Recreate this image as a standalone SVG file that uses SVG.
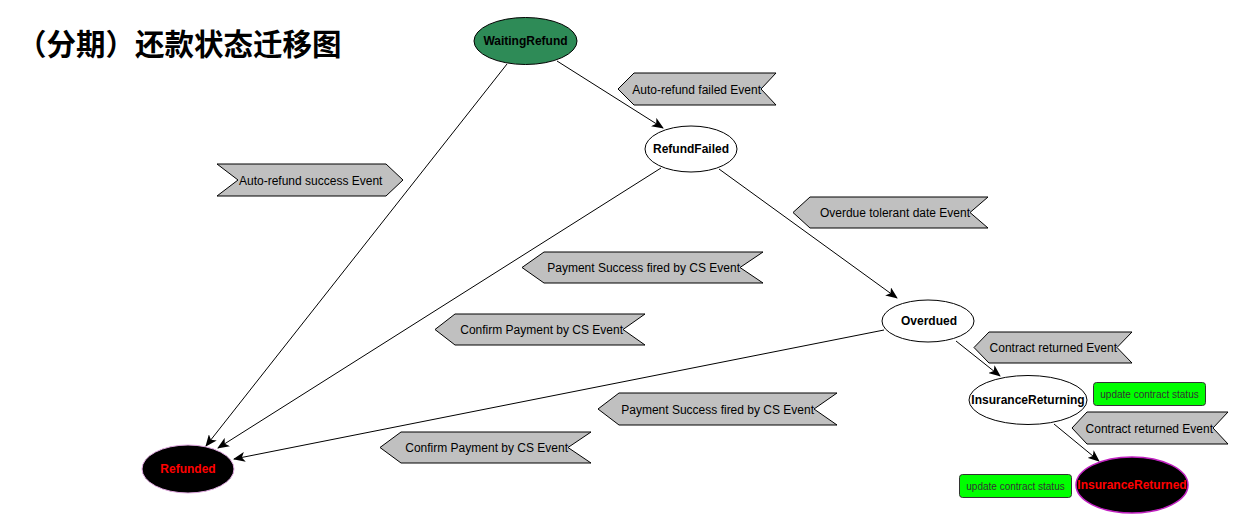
<svg xmlns="http://www.w3.org/2000/svg" width="1244" height="530" viewBox="0 0 1244 530">
<style>
.bg{fill:#ffffff}
.title{font-family:"Noto Sans CJK SC","Liberation Sans",sans-serif;font-size:29.5px;font-weight:bold;fill:#000}
.node{stroke:#000;stroke-width:1}
.ntxt{font-family:"Liberation Sans",Arial,sans-serif;font-size:12px;font-weight:bold;text-anchor:middle}
.lbl{fill:#c0c0c0;stroke:#000;stroke-width:1}
.ltxt{font-family:"Liberation Sans",Arial,sans-serif;font-size:12px;fill:#000}
.end{text-anchor:end}
.act{fill:#00ff00;stroke:#333;stroke-width:1}
.atxt{font-family:"Liberation Sans",Arial,sans-serif;font-size:10px;fill:#333;text-anchor:middle}
.edge{fill:none;stroke:#000;stroke-width:1;marker-end:url(#arr)}
</style>
<defs>
<marker id="arr" viewBox="0 0 12 10" refX="11" refY="5" markerWidth="12" markerHeight="10" markerUnits="userSpaceOnUse" orient="auto">
<path d="M0,0 L12,5 L0,10 L3,5 z" fill="#000"/>
</marker>
</defs>
<rect class="bg" x="0" y="0" width="1244" height="530"/>
<text class="title" x="17" y="55">（分期）还款状态迁移图</text>

<g id="connectors">
<line class="edge" x1="557" y1="61" x2="663" y2="128"/>
<line class="edge" x1="507" y1="64" x2="206" y2="446"/>
<line class="edge" x1="661" y1="168" x2="218" y2="448"/>
<line class="edge" x1="719" y1="169" x2="897" y2="298"/>
<line class="edge" x1="884" y1="330" x2="234" y2="459"/>
<line class="edge" x1="956" y1="341" x2="1000" y2="376"/>
<line class="edge" x1="1054" y1="424" x2="1099" y2="461"/>
</g>

<g id="label-autorefund-failed">
<polygon class="lbl" points="634,73 776,73 761,89 776,105 634,105 618,89"/>
<text class="ltxt end" x="761" y="93.5">Auto-refund failed Event</text>
</g>
<g id="label-autorefund-success">
<polygon class="lbl" points="217,164 386,164 403,180 386,196 217,196 238,180"/>
<text class="ltxt" x="239" y="184.5">Auto-refund success Event</text>
</g>
<g id="label-overdue-tolerant">
<polygon class="lbl" points="810,197 988,197 970,212.5 988,228 810,228 793,212.5"/>
<text class="ltxt end" x="970" y="217">Overdue tolerant date Event</text>
</g>
<g id="label-payment-upper">
<polygon class="lbl" points="544,252 763,252 740,267.5 763,283 544,283 522,267.5"/>
<text class="ltxt end" x="740" y="272">Payment Success fired by CS Event</text>
</g>
<g id="label-confirm-upper">
<polygon class="lbl" points="455,314 645,314 623,329.5 645,345 455,345 435,329.5"/>
<text class="ltxt end" x="623" y="334">Confirm Payment by CS Event</text>
</g>
<g id="label-contract-upper">
<polygon class="lbl" points="989,332 1132,332 1117,347.5 1132,363 989,363 974,347.5"/>
<text class="ltxt end" x="1117" y="352">Contract returned Event</text>
</g>
<g id="label-payment-lower">
<polygon class="lbl" points="619,393 837,393 814,409 837,425 619,425 598,409"/>
<text class="ltxt end" x="814" y="413.5">Payment Success fired by CS Event</text>
</g>
<g id="label-confirm-lower">
<polygon class="lbl" points="401,432 591,432 568,447.5 591,463 401,463 380,447.5"/>
<text class="ltxt end" x="568" y="452">Confirm Payment by CS Event</text>
</g>
<g id="label-contract-lower">
<polygon class="lbl" points="1087,412 1228,412 1213,428 1228,444 1087,444 1072,428"/>
<text class="ltxt end" x="1213" y="432.5">Contract returned Event</text>
</g>

<g id="action-upper">
<rect class="act" x="1093.5" y="382.5" width="112" height="23" rx="3"/>
<text class="atxt" x="1149.5" y="397.5">update contract status</text>
</g>
<g id="action-lower">
<rect class="act" x="959.5" y="474.5" width="112" height="23" rx="3"/>
<text class="atxt" x="1015.5" y="489.5">update contract status</text>
</g>

<g id="node-WaitingRefund">
<ellipse class="node" cx="525.5" cy="41" rx="51.5" ry="23.5" fill="#2e8b57"/>
<text class="ntxt" x="525.5" y="45" fill="#000">WaitingRefund</text>
</g>
<g id="node-RefundFailed">
<ellipse class="node" cx="691" cy="149" rx="46" ry="23" fill="#fff"/>
<text class="ntxt" x="691" y="153" fill="#000">RefundFailed</text>
</g>
<g id="node-Overdued">
<ellipse class="node" cx="928" cy="321" rx="46" ry="21" fill="#fff"/>
<text class="ntxt" x="929" y="325" fill="#000">Overdued</text>
</g>
<g id="node-InsuranceReturning">
<ellipse class="node" cx="1028" cy="400" rx="59" ry="24.5" fill="#fff"/>
<text class="ntxt" x="1028" y="404" fill="#000">InsuranceReturning</text>
</g>
<g id="node-InsuranceReturned">
<ellipse cx="1132" cy="485" rx="56" ry="28" fill="#000" stroke="#c020c0" stroke-width="1.5"/>
<text class="ntxt" x="1132" y="489" fill="#ff0000">InsuranceReturned</text>
</g>
<g id="node-Refunded">
<ellipse cx="188" cy="469" rx="46" ry="24" fill="#000" stroke="#e0a8e0" stroke-width="1"/>
<text class="ntxt" x="188" y="473" fill="#ff0000">Refunded</text>
</g>
</svg>
